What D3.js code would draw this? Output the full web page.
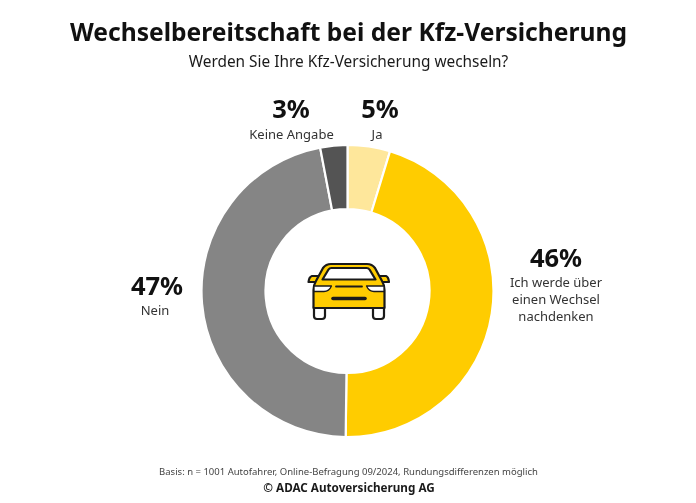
<!DOCTYPE html>
<html>
<head>
<meta charset="utf-8">
<script src="https://cdn.jsdelivr.net/npm/d3@7"></script>
<style>
    html, body { margin: 0; padding: 0; background: #fff; }
    svg { display: block; filter: blur(0.3px); }
    text { font-family: "Noto Sans", "Open Sans", sans-serif; fill: #1a1a1a; text-anchor: middle; }
    .pct { font-size: 25.5px; font-weight: 700; fill: #111; }
    .lbl { font-size: 13px; fill: #333; }
</style>
</head>
<body>
<svg id="chart" width="696" height="503"></svg>
<script>
    // shares, labels round them (Rundungsdifferenzen)
    let data = [
        {name: 'Ja', value: 4.7, color: '#fee79b', x: 380, y: 118, lx: 377, ly: 139, lines: ['Ja']},
        {name: 'Wechsel', value: 45.5, color: '#ffcc00', x: 556, y: 267, lx: 556, ly: 287, lines: ['Ich werde über', 'einen Wechsel', 'nachdenken']},
        {name: 'Nein', value: 46.8, color: '#858585', x: 157, y: 295, lx: 155, ly: 315, lines: ['Nein']},
        {name: 'Keine Angabe', value: 3, color: '#545454', x: 291, y: 118, lx: 291.5, ly: 139, lines: ['Keine Angabe']}
    ]

    let svg = d3.select('#chart')
    let center = {x: 347.5, y: 291}
    let pctFormat = d3.format('.0f')

    svg.append('text')
        .attr('x', 348.5).attr('y', 41)
        .attr('font-size', '24.6px')
        .attr('font-weight', 700)
        .style('fill', '#111')
        .text('Wechselbereitschaft bei der Kfz-Versicherung')

    svg.append('text')
        .attr('x', 348.5).attr('y', 67)
        .attr('font-size', '15.4px')
        .text('Werden Sie Ihre Kfz-Versicherung wechseln?')

    // donut
    let pie = d3.pie().value(d => d.value).sort(null)
    let arc = d3.arc().innerRadius(82).outerRadius(146)

    let donut = svg.append('g')
        .attr('transform', `translate(${center.x},${center.y})`)

    donut.selectAll('path')
        .data(pie(data))
        .join('path')
        .attr('d', arc)
        .attr('fill', d => d.data.color)
        .attr('stroke', 'white')
        .attr('stroke-width', 2.2)

    // labels
    for (let d of data) {
        svg.append('text')
            .attr('class', 'pct')
            .attr('x', d.x).attr('y', d.y)
            .text(pctFormat(d.value) + '%')
        d.lines.forEach((line, i) => {
            svg.append('text')
                .attr('class', 'lbl')
                .attr('x', d.lx).attr('y', d.ly + i * 17)
                .text(line)
        })
    }

    // car icon
    let car = svg.append('g')
        .attr('transform', 'translate(290,240)')
        .attr('stroke', '#1a1a1a')
        .attr('stroke-width', 2.2)
        .attr('stroke-linejoin', 'round')
        .attr('stroke-linecap', 'round')

    car.append('path').attr('fill', 'white')
        .attr('d', 'M24,66 H35 V76 Q35,79 32,79 H27 Q24,79 24,76 Z')
    car.append('path').attr('fill', 'white')
        .attr('d', 'M83,66 H94 V76 Q94,79 91,79 H86 Q83,79 83,76 Z')
    car.append('path').attr('fill', '#ffcc00')
        .attr('d', 'M29,36 H22 Q19,37 18.5,42 H26 Z M89,36 H96 Q98.500,37 99,42 H92 Z')
    car.append('path').attr('fill', '#ffcc00')
        .attr('d', 'M23.500,68 V50 Q23.500,45 26,41 L33,28 Q36,24 41,24 H77 Q82,24 85,28 L92,41 Q94.500,45 94.500,50 V68 Z')
    car.append('path').attr('fill', 'white')
        .attr('d', 'M32.500,39.500 L38.500,29.500 Q39.500,28 41.500,28 H76.500 Q78.500,28 79.500,29.500 L85.500,39.500 Z')
    car.append('path').attr('fill', 'white').attr('stroke-width', 1.3)
        .attr('d', 'M24,46 H41.500 Q39,51.500 34,51.500 H24 Z M94,46 H76.500 Q79,51.500 84,51.500 H94 Z')
    car.append('line').attr('x1', 46).attr('x2', 72).attr('y1', 46.5).attr('y2', 46.5).attr('stroke-width', 1.8)
    car.append('line').attr('x1', 43).attr('x2', 75).attr('y1', 58.5).attr('y2', 58.5).attr('stroke-width', 3.6)

    // footer
    svg.append('text')
        .attr('x', 348.5).attr('y', 475)
        .attr('font-size', '9.5px')
        .style('fill', '#444')
        .text('Basis: n = 1001 Autofahrer, Online-Befragung 09/2024, Rundungsdifferenzen möglich')

    svg.append('text')
        .attr('x', 349).attr('y', 491.5)
        .attr('font-size', '11.7px')
        .attr('font-weight', 700)
        .text('© ADAC Autoversicherung AG')
</script>
</body>
</html>
